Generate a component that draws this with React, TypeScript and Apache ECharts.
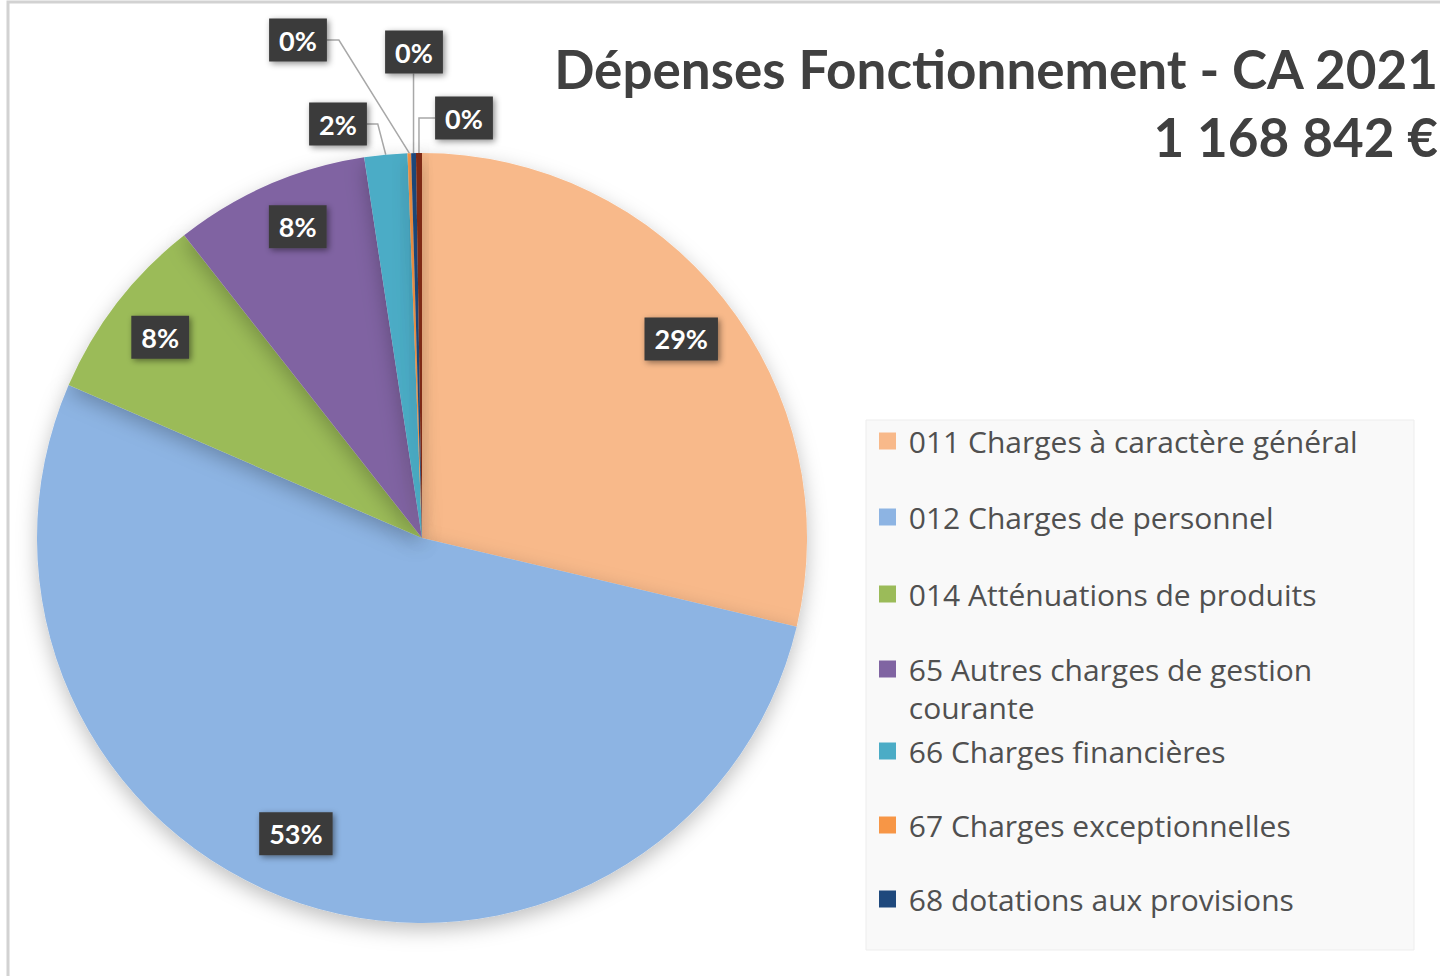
import React, { useEffect, useRef } from 'react';
import * as echarts from 'echarts';

// ---- data ----
const categories = [
  '011 Charges à caractère général',
  '012 Charges de personnel',
  '014 Atténuations de produits',
  '65 Autres charges de gestion courante',
  '66 Charges financières',
  '67 Charges exceptionnelles',
  '68 dotations aux provisions',
  "042 Opérations d'ordre",
];
const values = [335450, 617150, 92340, 95850, 21040, 1750, 2340, 2922];
const legendCount = 7;
const titleLines = ['Dépenses Fonctionnement - CA 2021', '1 168 842 €'];

// ---- styles ----
const colors = ['#F8B98A', '#8DB4E3', '#9BBB59', '#8064A2', '#4BACC6', '#F79646', '#1F497D', '#7E2A14'];
const legendRowCenters = [441, 517, 594, 669, 751, 825, 899];
const wrappedIndex = 3;
const insideIdx = [0, 1, 2, 3];
const insideNudge: Record<number, number[]> = { 0: [0, 6], 1: [-22, -18], 2: [0, 1], 3: [7, -8] };
const FONT = 'Lato, "Open Sans", sans-serif';
const LEGEND_FONT = '"Open Sans", Lato, sans-serif';

// positions of the small outside labels (label centre) and line shape
const smallSpots: Record<number, { x: number; y: number; kind: string }> = {
  4: { x: 338, y: 124, kind: 'right' },
  5: { x: 298, y: 40, kind: 'rightFar' },
  6: { x: 414, y: 52, kind: 'down' },
  7: { x: 464, y: 118, kind: 'left' },
};

const labelBox = {
  color: '#ffffff',
  fontFamily: FONT,
  fontWeight: 'bold' as const,
  fontSize: 27,
  backgroundColor: '#3a3a3a',
  padding: [9, 10, 7, 10],
  shadowBlur: 6,
  shadowColor: 'rgba(0,0,0,0.45)',
  shadowOffsetX: 2,
  shadowOffsetY: 2,
};

export default function App() {
  const ref = useRef<HTMLDivElement>(null);
  useEffect(() => {
    if (!ref.current) return;
    const chart = echarts.init(ref.current, undefined, { renderer: 'svg' });
    const center = [422, 538];
    const R = 385;

    const mainData = categories.map((name, i) => ({
      name,
      value: values[i],
      itemStyle: { color: colors[i] },
      label: { show: i >= 4 },
      labelLine: { show: i >= 4 },
    }));
    const overlayData = categories.map((name, i) => ({
      name,
      value: values[i],
      itemStyle: { color: 'rgba(0,0,0,0)' },
      label: { show: insideIdx.includes(i) },
    }));

    const legends = categories.slice(0, legendCount).map((name, i) => {
      const wrapped = i === wrappedIndex;
      const lh = wrapped ? 38 : 30;
      return {
        data: [name],
        orient: 'vertical',
        left: 879,
        top: legendRowCenters[i] - (wrapped ? lh * 1.5 : lh / 2),
        padding: 0,
        icon: 'rect',
        itemWidth: 17,
        itemHeight: 17,
        selectedMode: false,
        formatter: (n: string) =>
          n === categories[wrappedIndex] ? ' \n 65 Autres charges de gestion\n courante' : ' ' + n,
        textStyle: {
          fontFamily: LEGEND_FONT,
          fontSize: 30,
          color: '#505050',
          lineHeight: lh,
        },
      };
    });

    chart.setOption({
      animation: false,
      backgroundColor: '#ffffff',
      graphic: [
        {
          type: 'rect',
          z: 0,
          shape: { x: 8, y: 2, width: 1480, height: 1020 },
          style: { fill: 'none', stroke: '#d2d2d2', lineWidth: 3 },
          silent: true,
        },
        {
          type: 'rect',
          z: 0,
          shape: { x: 866, y: 420, width: 548, height: 530 },
          style: { fill: '#f9f9f9', stroke: '#ededed', lineWidth: 1 },
          silent: true,
        },
        {
          type: 'text',
          z: 10,
          x: 1438,
          y: 68,
          style: {
            text: titleLines[0],
            align: 'right',
            verticalAlign: 'middle',
            font: `bold 53px ${FONT}`,
            fill: '#404040',
          },
        },
        {
          type: 'text',
          z: 10,
          x: 1438,
          y: 136,
          style: {
            text: titleLines[1],
            align: 'right',
            verticalAlign: 'middle',
            font: `bold 53px ${FONT}`,
            fill: '#404040',
          },
        },
      ],
      legend: legends,
      series: [
        {
          type: 'pie',
          center,
          radius: [0, R],
          startAngle: 90,
          clockwise: true,
          percentPrecision: 0,
          avoidLabelOverlap: false,
          silent: true,
          itemStyle: {
            borderWidth: 0,
            shadowBlur: 20,
            shadowColor: 'rgba(0,0,0,0.25)',
            shadowOffsetY: 7,
          },
          label: {
            ...labelBox,
            position: 'outside',
            formatter: '{d}%',
          },
          labelLine: {
            show: true,
            length: 20,
            length2: 10,
            lineStyle: { color: '#a8a8a8', width: 1.5 },
          },
          labelLayout: (p: any) => {
            const spot = smallSpots[p.dataIndex];
            if (!spot) return {};
            const edge = p.labelLinePoints ? p.labelLinePoints[0] : [spot.x, spot.y + 40];
            const hw = p.labelRect ? p.labelRect.width / 2 : 30;
            const hh = p.labelRect ? p.labelRect.height / 2 : 23;
            let pts: number[][];
            if (spot.kind === 'right') {
              pts = [edge, [edge[0] - 8, spot.y], [spot.x + hw, spot.y]];
            } else if (spot.kind === 'rightFar') {
              pts = [edge, [spot.x + hw + 12, spot.y], [spot.x + hw, spot.y]];
            } else if (spot.kind === 'down') {
              pts = [edge, [edge[0], spot.y + hh], [edge[0], spot.y + hh]];
            } else {
              pts = [edge, [edge[0], spot.y], [spot.x - hw, spot.y]];
            }
            return {
              x: spot.x,
              y: spot.y,
              align: 'center',
              verticalAlign: 'middle',
              labelLinePoints: pts,
            };
          },
          data: mainData,
        },
        {
          type: 'pie',
          center,
          radius: [270, R],
          startAngle: 90,
          clockwise: true,
          percentPrecision: 0,
          silent: true,
          avoidLabelOverlap: false,
          label: {
            ...labelBox,
            position: 'inside',
            formatter: '{d}%',
          },
          labelLayout: (p: any) => {
            const n = insideNudge[p.dataIndex];
            return n ? { dx: n[0], dy: n[1] } : {};
          },
          labelLine: { show: false },
          emphasis: { disabled: true },
          data: overlayData,
        },
      ],
    });
    return () => chart.dispose();
  }, []);
  return <div ref={ref} style={{ position: 'fixed', left: 0, top: 0, width: 1440, height: 976 }} />;
}
